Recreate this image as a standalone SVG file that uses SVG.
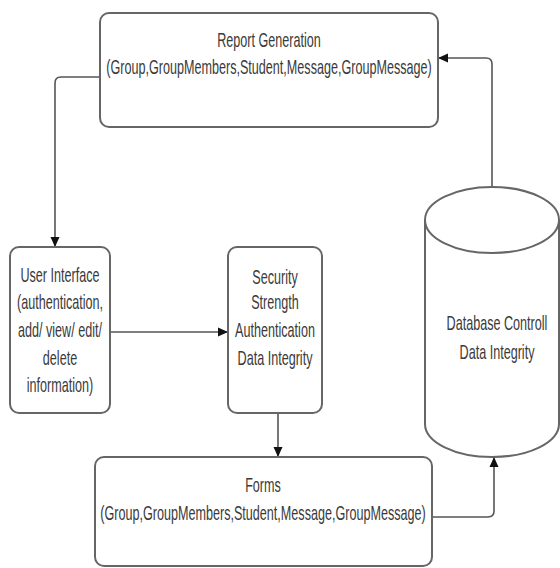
<svg xmlns="http://www.w3.org/2000/svg" width="560" height="568" viewBox="0 0 560 568">
<style>
.box{fill:#fff;stroke:#666;stroke-width:2}
.conn{fill:none;stroke:#555;stroke-width:1.6}
.t{font-family:"Liberation Sans",Arial,sans-serif;font-size:20px;fill:#3a3a3a;text-anchor:middle}
</style>
<defs>
<marker id="arr" markerUnits="userSpaceOnUse" markerWidth="10" markerHeight="10" refX="10" refY="5" orient="auto">
<path d="M0,0.5 L10,5 L0,9.5 z" fill="#111"/>
</marker>
</defs>
<rect width="560" height="568" fill="#fff"/>
<g id="connectors">
<path class="conn" d="M492,186 V64 Q492,58 486,58 H438" marker-end="url(#arr)"/>
<path class="conn" d="M100,77 H61 Q55,77 55,83 V247" marker-end="url(#arr)"/>
<path class="conn" d="M110,332 H228" marker-end="url(#arr)"/>
<path class="conn" d="M278,413 V457" marker-end="url(#arr)"/>
<path class="conn" d="M432,517 H488 Q494,517 494,511 V457" marker-end="url(#arr)"/>
</g>
<g id="report">
<rect class="box" x="100" y="13" width="338" height="114" rx="9"/>
<text class="t" transform="translate(269,47) scale(0.63,1)">Report Generation</text>
<text class="t" transform="translate(269,74) scale(0.63,1)">(Group,GroupMembers,Student,Message,GroupMessage)</text>
</g>
<g id="ui">
<rect class="box" x="10" y="247" width="100" height="166" rx="9"/>
<text class="t" transform="translate(60,282) scale(0.63,1)">User Interface</text>
<text class="t" transform="translate(60,309) scale(0.63,1)">(authentication,</text>
<text class="t" transform="translate(60,337) scale(0.63,1)">add/ view/ edit/</text>
<text class="t" transform="translate(60,365) scale(0.63,1)">delete</text>
<text class="t" transform="translate(60,392) scale(0.63,1)">information)</text>
</g>
<g id="security">
<rect class="box" x="228" y="247" width="94" height="166" rx="9"/>
<text class="t" transform="translate(275,284) scale(0.63,1)">Security</text>
<text class="t" transform="translate(275,309) scale(0.63,1)">Strength</text>
<text class="t" transform="translate(275,337) scale(0.63,1)">Authentication</text>
<text class="t" transform="translate(275,365) scale(0.63,1)">Data Integrity</text>
</g>
<g id="forms">
<rect class="box" x="95" y="457" width="337" height="109" rx="9"/>
<text class="t" transform="translate(263,492) scale(0.63,1)">Forms</text>
<text class="t" transform="translate(263,520) scale(0.63,1)">(Group,GroupMembers,Student,Message,GroupMessage)</text>
</g>
<g id="database">
<path class="box" d="M425,220 V424 A67,33 0 0 0 559,424 V220"/>
<ellipse class="box" cx="492" cy="220" rx="67" ry="33"/>
<text class="t" transform="translate(497,330) scale(0.63,1)">Database Controll</text>
<text class="t" transform="translate(497,359) scale(0.63,1)">Data Integrity</text>
</g>
</svg>
